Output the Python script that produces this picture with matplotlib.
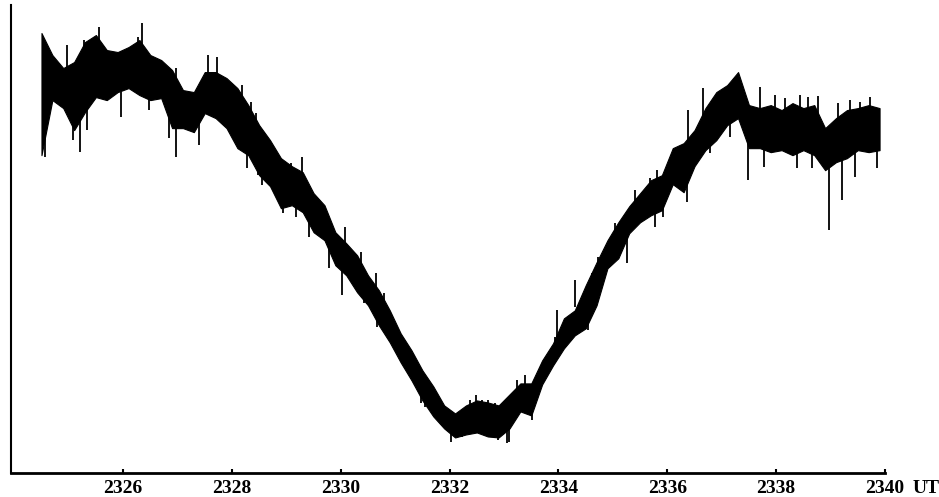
import numpy as np
import matplotlib
matplotlib.use("Agg")
import matplotlib.pyplot as plt

###########################################################
# Data (time in UT hhmm.min, intensity arbitrary units)
t_ut = [2324.5, 2324.7, 2324.9, 2325.1, 2325.3, 2325.5, 2325.7, 2325.9,
        2326.1, 2326.3, 2326.5, 2326.7, 2326.9, 2327.1, 2327.3, 2327.5,
        2327.7, 2327.9, 2328.1, 2328.3, 2328.5, 2328.7, 2328.9, 2329.1,
        2329.3, 2329.5, 2329.7, 2329.9, 2330.1, 2330.3, 2330.5, 2330.7,
        2330.9, 2331.1, 2331.3, 2331.5, 2331.7, 2331.9, 2332.1, 2332.3,
        2332.5, 2332.7, 2332.9, 2333.1, 2333.3, 2333.5, 2333.7, 2333.9,
        2334.1, 2334.3, 2334.5, 2334.7, 2334.9, 2335.1, 2335.3, 2335.5,
        2335.7, 2335.9, 2336.1, 2336.3, 2336.5, 2336.7, 2336.9, 2337.1,
        2337.3, 2337.5, 2337.7, 2337.9, 2338.1, 2338.3, 2338.5, 2338.7,
        2338.9, 2339.1, 2339.3, 2339.5, 2339.7, 2339.9]

# upper and lower edge of the noisy trace
upper = [439, 417, 404, 410, 430, 437, 422, 420, 425, 432, 417, 412, 402,
         382, 380, 400, 400, 394, 384, 367, 347, 332, 314, 306, 300, 279,
         267, 240, 229, 217, 197, 182, 162, 139, 122, 102, 86, 67, 59, 67,
         72, 70, 67, 78, 89, 89, 112, 129, 154, 162, 187, 210, 232, 250,
         266, 279, 292, 297, 324, 329, 342, 364, 380, 387, 400, 367, 364,
         367, 362, 369, 364, 367, 344, 354, 362, 364, 367, 364]
lower = [317, 372, 364, 342, 360, 375, 372, 380, 384, 377, 372, 374, 344,
         344, 340, 359, 354, 344, 324, 317, 297, 286, 264, 267, 260, 240,
         232, 207, 197, 180, 167, 147, 130, 110, 92, 72, 56, 44, 35, 38,
         40, 36, 35, 44, 61, 57, 88, 107, 124, 137, 144, 167, 204, 214,
         239, 250, 257, 262, 288, 280, 306, 322, 332, 347, 354, 324, 324,
         320, 322, 317, 322, 317, 302, 310, 314, 322, 320, 322]

# isolated spikes in the trace (time, bottom, top)
spike_t = [2324.57, 2324.97, 2325.08, 2325.21, 2325.28, 2325.34, 2325.56,
           2325.96, 2326.28, 2326.35, 2326.48, 2326.85, 2326.98, 2327.40,
           2327.56, 2327.73, 2328.28, 2330.03, 2330.08, 2336.38, 2337.48,
           2337.70, 2337.77, 2338.38, 2338.66, 2338.97, 2339.14, 2339.21,
           2339.45, 2339.85,
           2328.19, 2328.35, 2328.45, 2328.59, 2328.78, 2329.09, 2329.29,
           2328.47, 2328.56, 2328.93, 2329.18, 2329.42, 2329.79, 2330.29,
           2330.43, 2330.67, 2331.48, 2330.38, 2330.65, 2330.80, 2331.54,
           2332.03, 2332.22, 2332.37, 2332.49, 2332.60, 2332.70, 2332.83,
           2332.88, 2333.05, 2333.10, 2333.23, 2333.38, 2333.52, 2333.93,
           2333.97, 2334.30, 2334.54, 2334.61, 2334.72, 2335.03, 2335.25,
           2335.40, 2335.68, 2335.77, 2335.81, 2335.92, 2336.36, 2336.65,
           2336.78, 2337.15,
           2337.98, 2338.16, 2338.44, 2338.58, 2338.77, 2339.36, 2339.54,
           2339.72]
spike_lo = [315, 380, 332, 320, 400, 342, 400, 355, 400, 400, 362, 334,
            315, 327, 380, 380, 304, 177, 220, 330, 292, 360, 305, 304,
            304, 242, 350, 272, 295, 304,
            362, 345, 335, 315, 300, 290, 295,
            297, 287, 259, 255, 235, 204, 182,
            169, 145, 69, 195, 175, 155, 65,
            30, 35, 50, 55, 50, 50, 47,
            32, 29, 30, 70, 75, 52, 109,
            135, 165, 142, 175, 190, 225, 209,
            255, 270, 245, 275, 255, 270, 355,
            319, 335,
            350, 350, 350, 350, 350, 345, 345,
            345]
spike_hi = [372, 427, 372, 372, 432, 370, 445, 380, 435, 449, 390, 360,
            404, 360, 417, 415, 330, 210, 245, 362, 330, 385, 330, 325,
            325, 310, 369, 315, 325, 325,
            387, 370, 359, 340, 322, 309, 315,
            320, 310, 285, 280, 260, 230, 205,
            195, 170, 95, 220, 199, 179, 87,
            55, 60, 72, 77, 72, 72, 69,
            57, 54, 55, 92, 97, 77, 135,
            162, 192, 167, 199, 215, 249, 235,
            282, 294, 270, 302, 280, 295, 384,
            345, 360,
            377, 374, 377, 375, 376, 372, 370,
            375]

tick_pos = [2326, 2328, 2330, 2332, 2334, 2336, 2338, 2340]
tick_lab = ["2326", "2328", "2330", "2332", "2334", "2336", "2338", "2340"]

###########################################################
# Plot
fig = plt.figure(figsize=(9.39, 4.97), dpi=100)
ax = fig.add_axes([11 / 939, 24.5 / 497, 874 / 939, 467.5 / 497])

ax.fill_between(t_ut, lower, upper, color="black", linewidth=0.8)
ax.vlines(spike_t, spike_lo, spike_hi, color="black", linewidth=1.3)

ax.set_xlim(2323.94, 2340.0)
ax.set_ylim(0, 467)

ax.spines["top"].set_visible(False)
ax.spines["right"].set_visible(False)
ax.spines["left"].set_linewidth(1.5)
ax.spines["bottom"].set_linewidth(2.0)

ax.set_yticks([])
ax.set_xticks(tick_pos)
ax.set_xticklabels(tick_lab, family="Liberation Serif", fontweight="bold",
                   fontsize=14)
ax.tick_params(axis="x", direction="in", length=3, width=1.5, pad=5.5)

ax.text(1.031, -0.0155, "UT", transform=ax.transAxes, ha="left", va="top",
        family="Liberation Serif", fontweight="bold", fontsize=14)

fig.savefig("out.png", dpi=100)
